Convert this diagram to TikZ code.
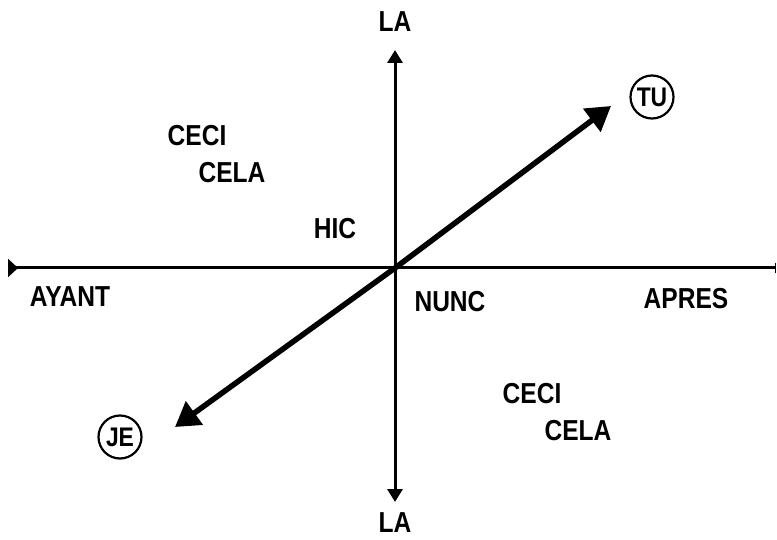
\documentclass[tikz,border=0pt]{standalone}
\usepackage{fontspec}
\setmainfont{Liberation Sans}[FakeStretch=0.85]
\usetikzlibrary{arrows.meta}
\begin{document}
\begin{tikzpicture}[x=1bp,y=-1bp,
  lbl/.style={font=\fontsize{29}{29}\selectfont\bfseries, inner sep=0pt},
  axis/.style={line width=3bp},
  ring/.style={circle, draw, line width=2.2bp, minimum size=43bp, inner sep=0pt, font=\fontsize{27}{27}\selectfont\bfseries}]
\useasboundingbox (0,0) rectangle (777,540);
\coordinate (O) at (395,268);
\coordinate (L) at (8,268);
\coordinate (R) at (776,268);
\coordinate (T) at (395,50);
\coordinate (B) at (395,502);
\coordinate (TUtip) at (611,106);
\coordinate (JEtip) at (175,427);
% axes
\draw[axis, {Triangle[reversed,length=10bp,width=18bp]}-{Bar[width=10bp,line width=1bp]}] (L) -- (R);
\draw[axis, {Triangle[length=13bp,width=15bp]}-{Triangle[length=13bp,width=15bp]}] (T) -- (B);
\draw[line width=5.5bp, -{Triangle[length=24bp,width=28bp]}] (O) -- (TUtip);
\draw[line width=5.5bp, -{Triangle[length=24bp,width=28bp]}] (O) -- (JEtip);
% labels
\node[lbl] (la1) at (395,22) {LA};
\node[lbl] (la2) at (395,523) {LA};
\node[lbl] (ceci1) at (197,136) {CECI};
\node[lbl] (cela1) at (232,173) {CELA};
\node[lbl] (hic) at (335,229) {HIC};
\node[lbl] (avant) at (70,297) {AYANT};
\node[lbl] (nunc) at (450,302) {NUNC};
\node[lbl] (apres) at (686,299) {APRES};
\node[lbl] (ceci2) at (532,394) {CECI};
\node[lbl] (cela2) at (578,431) {CELA};
\node[ring] (tu) at (652,97) {TU};
\node[ring] (je) at (120,437) {JE};
\end{tikzpicture}
\end{document}
